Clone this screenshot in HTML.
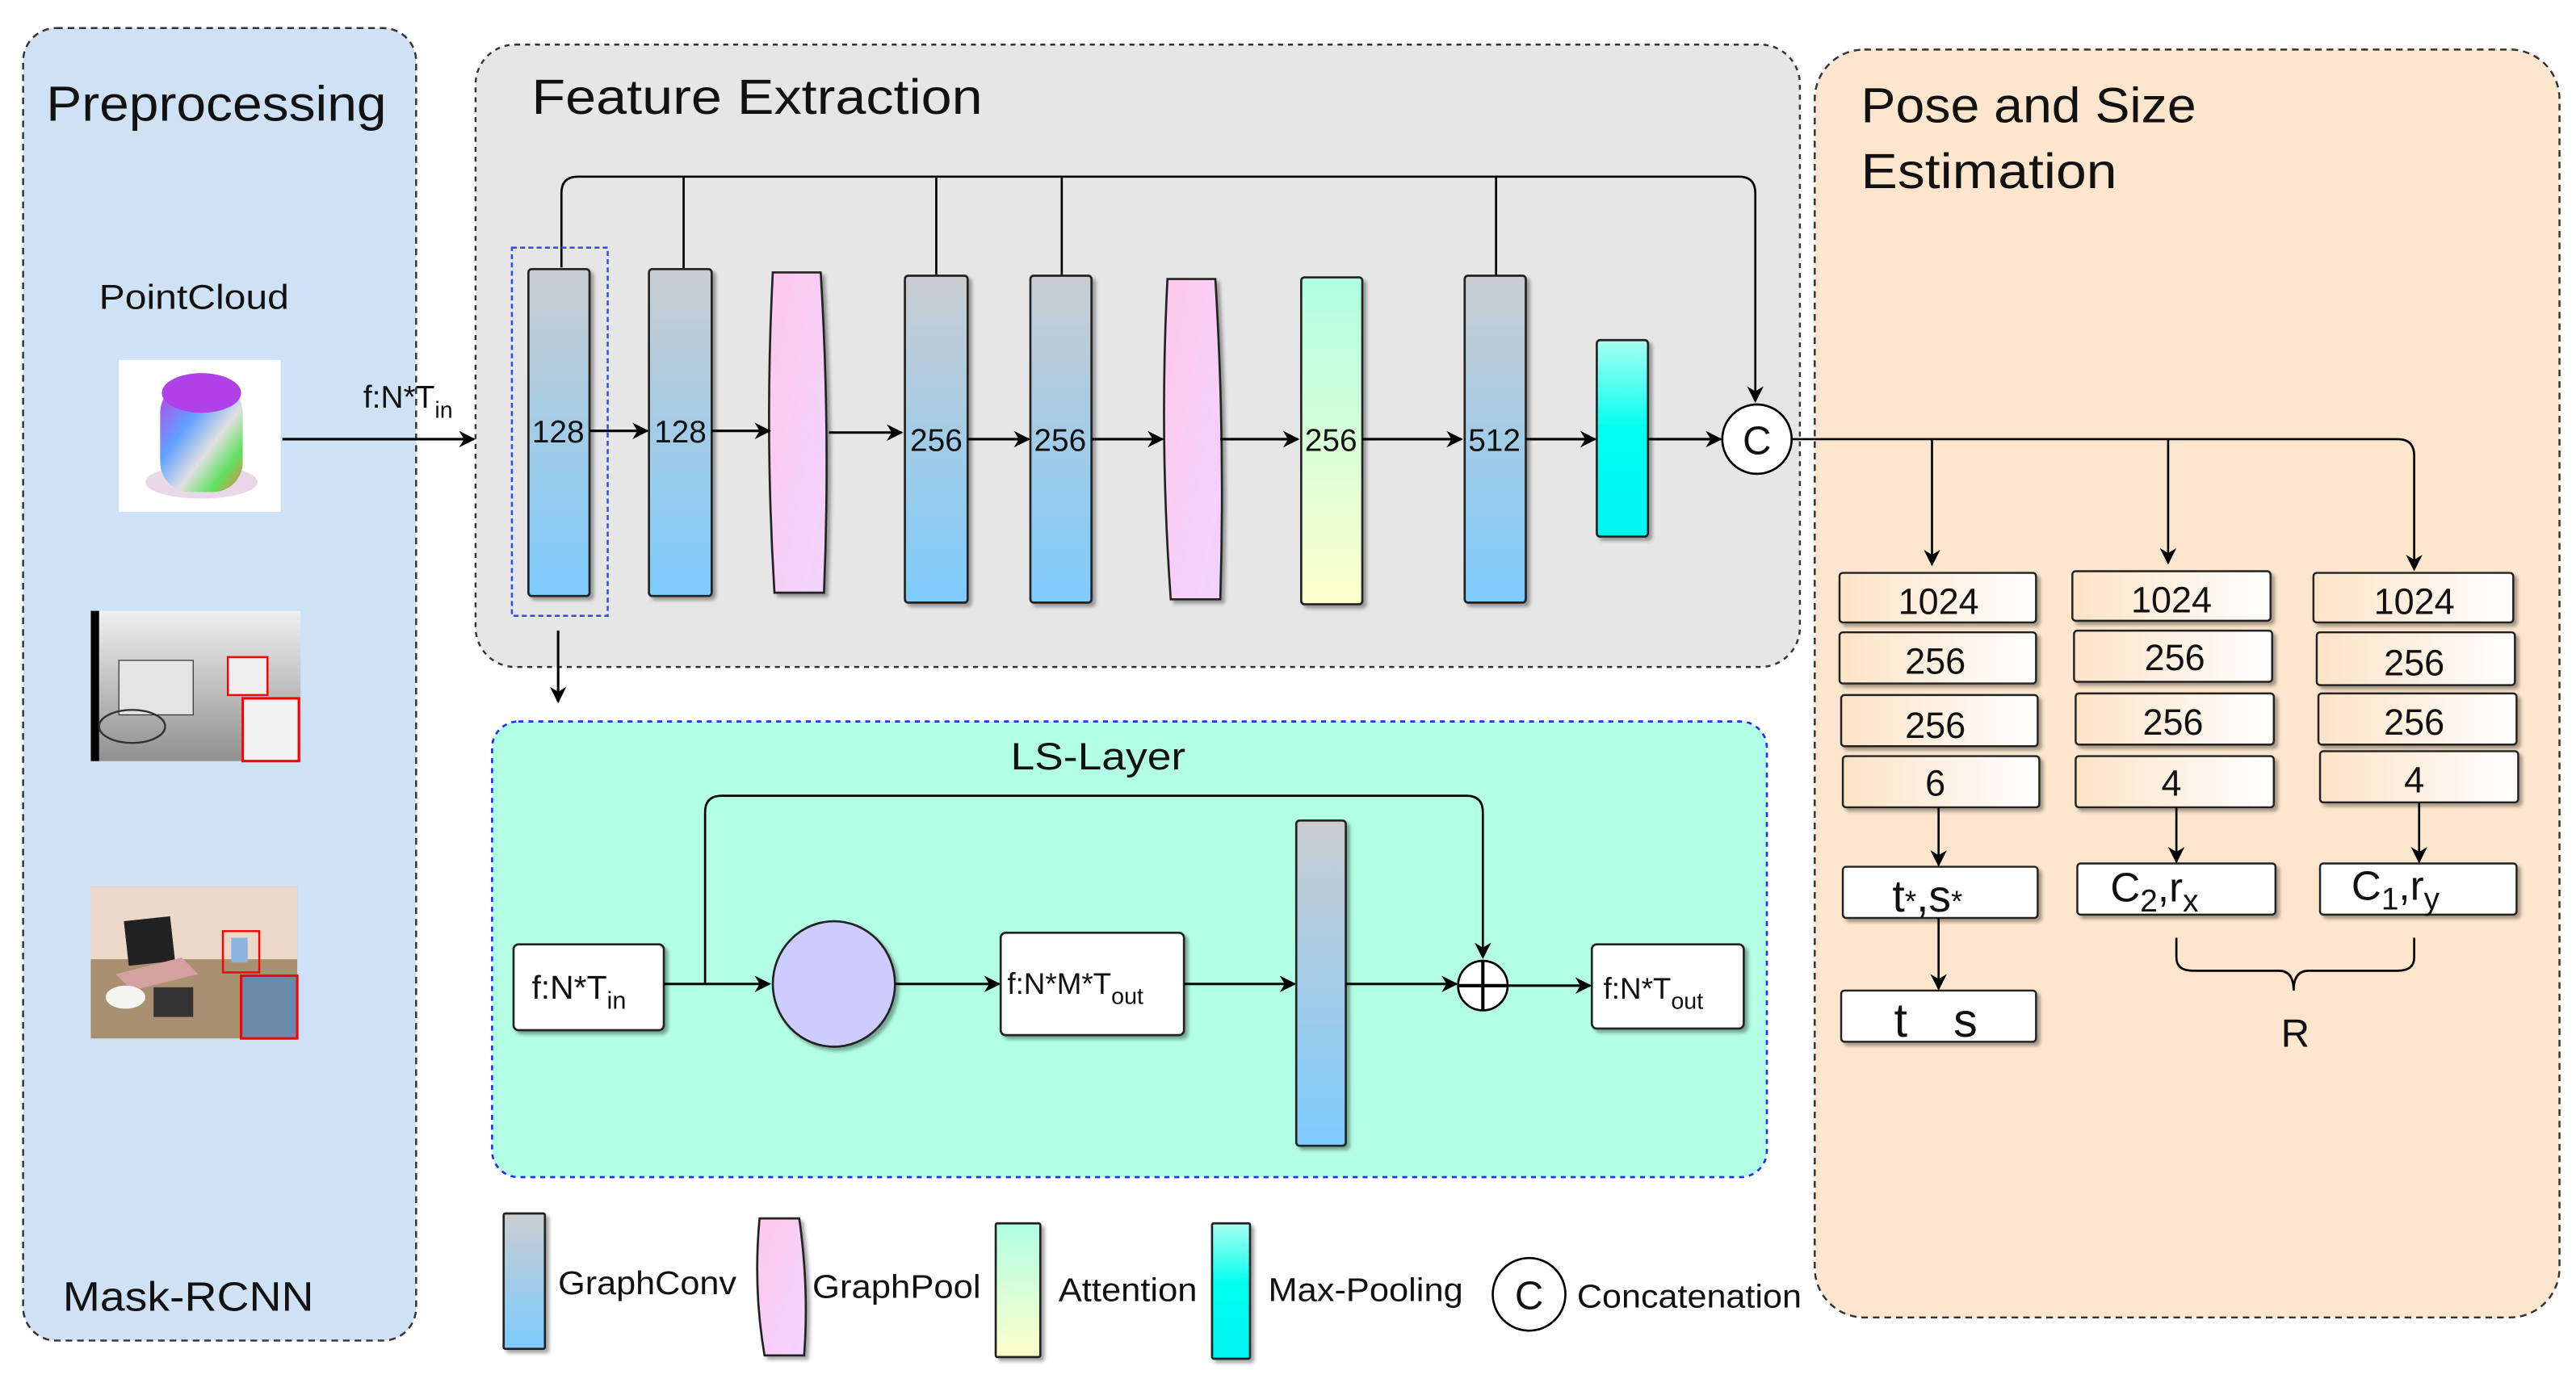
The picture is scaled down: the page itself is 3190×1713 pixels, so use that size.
<!DOCTYPE html>
<html><head><meta charset="utf-8"><style>
html,body{margin:0;padding:0;background:#fff;}
svg{display:block;}
text{font-family:"Liberation Sans",Arial,sans-serif;fill:#111;}
</style></head><body>
<svg width="3190" height="1713" viewBox="0 0 1560 837.7" xmlns="http://www.w3.org/2000/svg">
<defs>
<linearGradient id="gc" x1="0" y1="0" x2="0" y2="1"><stop offset="0" stop-color="#c9cdd0"/><stop offset="1" stop-color="#7dcbfd"/></linearGradient>
<linearGradient id="gp" x1="0" y1="0" x2="1" y2="1"><stop offset="0" stop-color="#ffc8ec"/><stop offset="1" stop-color="#f0d4ff"/></linearGradient>
<linearGradient id="at" x1="0" y1="0" x2="0" y2="1"><stop offset="0" stop-color="#b0ffe4"/><stop offset="1" stop-color="#ffffcc"/></linearGradient>
<linearGradient id="mp" x1="0" y1="0" x2="0" y2="1"><stop offset="0" stop-color="#a8fff0"/><stop offset="0.45" stop-color="#00fff0"/><stop offset="1" stop-color="#00f5f0"/></linearGradient>
<linearGradient id="pb" x1="0" y1="0" x2="1" y2="0"><stop offset="0" stop-color="#fde3c6"/><stop offset="1" stop-color="#ffffff"/></linearGradient>
<linearGradient id="cyl" x1="0" y1="0" x2="1" y2="1"><stop offset="0" stop-color="#c040e0"/><stop offset="0.35" stop-color="#60a0ff"/><stop offset="0.6" stop-color="#e0e0e0"/><stop offset="0.8" stop-color="#60e060"/><stop offset="1" stop-color="#f08040"/></linearGradient>
<linearGradient id="dep" x1="0" y1="0" x2="0" y2="1"><stop offset="0" stop-color="#f0f0f0"/><stop offset="1" stop-color="#909090"/></linearGradient>
<marker id="ar" markerWidth="10" markerHeight="10" refX="9" refY="5" orient="auto" markerUnits="userSpaceOnUse"><path d="M0,0 L10,5 L0,10 L3,5 z" fill="#000"/></marker>
<filter id="sh" x="-20%" y="-20%" width="150%" height="150%"><feDropShadow dx="2" dy="2" stdDeviation="1" flood-color="#000" flood-opacity="0.35"/></filter>
</defs>

<rect x="14" y="17" width="238" height="795" rx="20" fill="#cfe2f5" stroke="#333" stroke-dasharray="4,3" stroke-width="1.2"/>
<rect x="288" y="27" width="802" height="377" rx="24" fill="#e6e6e6" stroke="#333" stroke-dasharray="3,3" stroke-width="1.2"/>
<rect x="1099" y="30" width="451" height="768" rx="30" fill="#fde6cd" stroke="#333" stroke-dasharray="4,3" stroke-width="1.2"/>
<rect x="298" y="437" width="772" height="276" rx="16" fill="#b3ffe6" stroke="#2233ee" stroke-dasharray="3,3" stroke-width="1.3"/>

<text x="28" y="73" font-size="30" textLength="206" lengthAdjust="spacingAndGlyphs">Preprocessing</text>
<text x="322" y="69" font-size="30" textLength="273" lengthAdjust="spacingAndGlyphs">Feature Extraction</text>
<text x="1127" y="74" font-size="30" textLength="203" lengthAdjust="spacingAndGlyphs">Pose and Size</text>
<text x="1127" y="114" font-size="30" textLength="155" lengthAdjust="spacingAndGlyphs">Estimation</text>
<text x="60" y="187" font-size="21" textLength="115" lengthAdjust="spacingAndGlyphs">PointCloud</text>
<text x="38" y="794" font-size="25" textLength="152" lengthAdjust="spacingAndGlyphs">Mask-RCNN</text>
<text x="612" y="466" font-size="23" textLength="106" lengthAdjust="spacingAndGlyphs">LS-Layer</text>

<rect x="72" y="218" width="98" height="92" fill="#fff"/>
<ellipse cx="122" cy="292" rx="34" ry="10" fill="#e8d8e8"/>
<rect x="97" y="232" width="50" height="66" rx="18" fill="url(#cyl)"/>
<ellipse cx="122" cy="238" rx="24" ry="12" fill="#b040e8"/>
<rect x="55" y="370" width="127" height="91" fill="url(#dep)"/>
<rect x="55" y="370" width="5" height="91" fill="#000"/>
<rect x="72" y="400" width="45" height="33" fill="#e4e4e4" stroke="#333" stroke-width="0.6"/>
<ellipse cx="80" cy="440" rx="20" ry="10" fill="none" stroke="#333" stroke-width="1.2"/>
<rect x="138" y="398" width="24" height="23" fill="#eee" stroke="#f00" stroke-width="1.2"/>
<rect x="147" y="423" width="34" height="38" fill="#f2f2f2" stroke="#f00" stroke-width="1.5"/>
<rect x="55" y="537" width="125" height="92" fill="#a89070"/>
<rect x="55" y="537" width="125" height="44" fill="#ecd8c8"/>
<path d="M75,558 L103,555 L106,582 L78,585 z" fill="#222"/>
<path d="M70,590 L110,580 L120,590 L80,600 z" fill="#d4a0a0"/>
<ellipse cx="76" cy="604" rx="12" ry="7" fill="#f4f4f0"/>
<rect x="93" y="598" width="24" height="18" fill="#333"/>
<rect x="135" y="564" width="22" height="25" fill="none" stroke="#f00" stroke-width="1.2"/>
<rect x="146" y="591" width="34" height="38" fill="#6a8aa8" stroke="#f00" stroke-width="1.5"/>
<rect x="140" y="568" width="10" height="15" fill="#8ab4e0"/>

<line x1="171" y1="266" x2="287" y2="266" stroke="#000" stroke-width="1.5" marker-end="url(#ar)"/>
<text x="220" y="247" font-size="19">f:N*T<tspan font-size="14" dy="6">in</tspan></text>

<path d="M340,162 V117 Q340,107 350,107 H1053 Q1063,107 1063,117 V243" fill="none" stroke="#000" stroke-width="1.3" marker-end="url(#ar)"/>
<line x1="414" y1="107" x2="414" y2="163" stroke="#000" stroke-width="1.3"/>
<line x1="567" y1="107" x2="567" y2="167" stroke="#000" stroke-width="1.3"/>
<line x1="643" y1="107" x2="643" y2="167" stroke="#000" stroke-width="1.3"/>
<line x1="906" y1="107" x2="906" y2="167" stroke="#000" stroke-width="1.3"/>

<rect x="310" y="150" width="58" height="223" fill="none" stroke="#3344ff" stroke-dasharray="3,2" stroke-width="1.2"/>
<g filter="url(#sh)" stroke="#222" stroke-width="1.3">
<rect x="320" y="163" width="37" height="198" rx="2" fill="url(#gc)"/>
<rect x="393" y="163" width="38" height="198" rx="2" fill="url(#gc)"/>
<path d="M468,165 L497,165 Q503,262 499,359 L469,359 Q463,262 468,165 z" fill="url(#gp)"/>
<rect x="548" y="167" width="38" height="198" rx="2" fill="url(#gc)"/>
<rect x="624" y="167" width="37" height="198" rx="2" fill="url(#gc)"/>
<path d="M707,169 L736,169 Q742,266 739,363 L709,363 Q702,266 707,169 z" fill="url(#gp)"/>
<rect x="788" y="168" width="37" height="198" rx="2" fill="url(#at)"/>
<rect x="887" y="167" width="37" height="198" rx="2" fill="url(#gc)"/>
<rect x="967" y="206" width="31" height="119" rx="2" fill="url(#mp)"/>
</g>
<g font-size="19" text-anchor="middle">
<text x="338" y="268">128</text><text x="412" y="268">128</text>
<text x="567" y="273">256</text><text x="642" y="273">256</text>
<text x="806" y="273">256</text><text x="905" y="273">512</text>
</g>
<g stroke="#000" stroke-width="1.5" marker-end="url(#ar)">
<line x1="357" y1="261" x2="392" y2="261"/>
<line x1="431" y1="261" x2="466" y2="261"/>
<line x1="502" y1="262" x2="546" y2="262"/>
<line x1="586" y1="266" x2="623" y2="266"/>
<line x1="661" y1="266" x2="704" y2="266"/>
<line x1="739" y1="266" x2="786" y2="266"/>
<line x1="825" y1="266" x2="885" y2="266"/>
<line x1="924" y1="266" x2="966" y2="266"/>
<line x1="998" y1="266" x2="1042" y2="266"/>
<line x1="338" y1="382" x2="338" y2="425"/>
</g>
<circle cx="1064" cy="266" r="21" fill="#fff" stroke="#000" stroke-width="1.3"/>
<text x="1064" y="275" font-size="24" text-anchor="middle">C</text>

<path d="M1085,266 H1452 Q1462,266 1462,276 V345" fill="none" stroke="#000" stroke-width="1.3" marker-end="url(#ar)"/>
<line x1="1170" y1="266" x2="1170" y2="342" stroke="#000" stroke-width="1.3" marker-end="url(#ar)"/>
<line x1="1313" y1="266" x2="1313" y2="341" stroke="#000" stroke-width="1.3" marker-end="url(#ar)"/>

<g filter="url(#sh)" stroke="#222" stroke-width="1.2" fill="url(#pb)">
<rect x="1114" y="347" width="119" height="30" rx="2"/>
<rect x="1114" y="383" width="119" height="31" rx="2"/>
<rect x="1115" y="421" width="119" height="31" rx="2"/>
<rect x="1116" y="458" width="119" height="31" rx="2"/>
<rect x="1255" y="346" width="120" height="30" rx="2"/>
<rect x="1256" y="382" width="120" height="31" rx="2"/>
<rect x="1257" y="420" width="120" height="31" rx="2"/>
<rect x="1257" y="458" width="120" height="31" rx="2"/>
<rect x="1401" y="347" width="121" height="30" rx="2"/>
<rect x="1403" y="383" width="120" height="32" rx="2"/>
<rect x="1404" y="420" width="120" height="31" rx="2"/>
<rect x="1405" y="455" width="120" height="31" rx="2"/>
</g>
<g filter="url(#sh)" stroke="#222" stroke-width="1.2" fill="#fff">
<rect x="1116" y="525" width="118" height="31" rx="2"/>
<rect x="1115" y="600" width="118" height="31" rx="2"/>
<rect x="1258" y="523" width="120" height="31" rx="2"/>
<rect x="1405" y="523" width="119" height="31" rx="2"/>
</g>
<g font-size="22" text-anchor="middle">
<text x="1174" y="372">1024</text><text x="1315" y="371">1024</text><text x="1462" y="372">1024</text>
<text x="1172" y="408">256</text><text x="1317" y="406">256</text><text x="1462" y="409">256</text>
<text x="1172" y="447">256</text><text x="1316" y="445">256</text><text x="1462" y="445">256</text>
<text x="1172" y="482">6</text><text x="1315" y="482">4</text><text x="1462" y="480">4</text>
</g>
<text x="1146" y="552" font-size="27">t<tspan font-size="18">*</tspan>,s<tspan font-size="18">*</tspan></text>
<text x="1147" y="628" font-size="29">t</text><text x="1183" y="628" font-size="29">s</text>
<text x="1278" y="546" font-size="25">C<tspan font-size="19" dy="6">2</tspan><tspan dy="-6">,r</tspan><tspan font-size="19" dy="6">x</tspan></text>
<text x="1424" y="545" font-size="25">C<tspan font-size="19" dy="6">1</tspan><tspan dy="-6">,r</tspan><tspan font-size="19" dy="6">y</tspan></text>
<g stroke="#000" stroke-width="1.3" marker-end="url(#ar)">
<line x1="1174" y1="489" x2="1174" y2="524"/>
<line x1="1174" y1="556" x2="1174" y2="599"/>
<line x1="1318" y1="489" x2="1318" y2="522"/>
<line x1="1465" y1="486" x2="1465" y2="522"/>
</g>
<path d="M1318,568 V580 Q1318,588 1328,588 H1380 Q1389,588 1389,600 Q1389,588 1398,588 H1452 Q1462,588 1462,580 V568" fill="none" stroke="#000" stroke-width="1.3"/>
<text x="1390" y="634" font-size="24" text-anchor="middle">R</text>

<path d="M427,596 V492 Q427,482 437,482 H888 Q898,482 898,492 V580" fill="none" stroke="#000" stroke-width="1.3" marker-end="url(#ar)"/>
<g filter="url(#sh)" stroke="#222" stroke-width="1.3">
<rect x="311" y="572" width="91" height="52" rx="3" fill="#fff"/>
<ellipse cx="505" cy="596" rx="37" ry="38" fill="#ccccff"/>
<rect x="606" y="565" width="111" height="62" rx="3" fill="#fff"/>
<rect x="785" y="497" width="30" height="197" rx="2" fill="url(#gc)"/>
<rect x="964" y="572" width="92" height="51" rx="3" fill="#fff"/>
</g>
<circle cx="898" cy="597" r="15" fill="#fff" stroke="#000" stroke-width="1.3"/>
<line x1="898" y1="582" x2="898" y2="612" stroke="#000" stroke-width="2"/>
<line x1="883" y1="597" x2="913" y2="597" stroke="#000" stroke-width="2"/>
<g stroke="#000" stroke-width="1.5" marker-end="url(#ar)">
<line x1="402" y1="596" x2="466" y2="596"/>
<line x1="542" y1="596" x2="605" y2="596"/>
<line x1="717" y1="596" x2="784" y2="596"/>
<line x1="815" y1="596" x2="882" y2="596"/>
<line x1="913" y1="597" x2="963" y2="597"/>
</g>
<text x="322" y="605" font-size="20">f:N*T<tspan font-size="15" dy="6">in</tspan></text>
<text x="610" y="602" font-size="18">f:N*M*T<tspan font-size="14" dy="6">out</tspan></text>
<text x="971" y="605" font-size="18">f:N*T<tspan font-size="14" dy="6">out</tspan></text>

<g filter="url(#sh)" stroke="#222" stroke-width="1.3">
<rect x="305" y="735" width="25" height="82" rx="1" fill="url(#gc)"/>
<path d="M460,738 L484,738 Q490,780 487,821 L463,821 Q456,780 460,738 z" fill="url(#gp)"/>
<rect x="603" y="741" width="27" height="81" rx="1" fill="url(#at)"/>
<rect x="734" y="741" width="23" height="82" rx="1" fill="url(#mp)"/>
</g>
<g font-size="20">
<text x="338" y="784" textLength="108" lengthAdjust="spacingAndGlyphs">GraphConv</text>
<text x="492" y="786" textLength="102" lengthAdjust="spacingAndGlyphs">GraphPool</text>
<text x="641" y="788" textLength="84" lengthAdjust="spacingAndGlyphs">Attention</text>
<text x="768" y="788" textLength="118" lengthAdjust="spacingAndGlyphs">Max-Pooling</text>
<text x="955" y="792" textLength="136" lengthAdjust="spacingAndGlyphs">Concatenation</text>
</g>
<circle cx="926" cy="784" r="22" fill="#fff" stroke="#000" stroke-width="1.3"/>
<text x="926" y="793" font-size="24" text-anchor="middle">C</text>
</svg>
</body></html>
